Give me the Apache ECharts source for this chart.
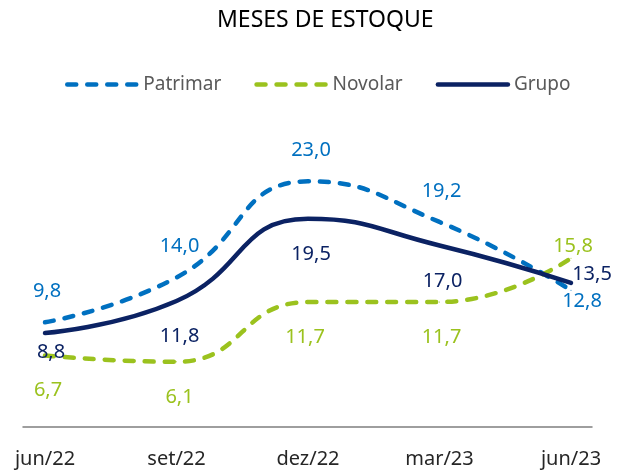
<!DOCTYPE html>
<html>
<head>
<meta charset="utf-8">
<script src="https://cdn.jsdelivr.net/npm/echarts@6/dist/echarts.min.js"></script>
<style>
html,body{margin:0;padding:0;background:#fff;}
#chart{width:619px;height:472px;}
</style>
</head>
<body>
<div id="chart"></div>
<script>
var categories = ['jun/22', 'set/22', 'dez/22', 'mar/23', 'jun/23'];
var patrimar = [9.8, 14.0, 23.0, 19.2, 12.8];
var novolar = [6.7, 6.1, 11.7, 11.7, 15.8];
var grupo = [8.8, 11.8, 19.5, 17.0, 13.5];
var seriesNames = ['Patrimar', 'Novolar', 'Grupo'];
var titleText = 'MESES DE ESTOQUE';

var FONT = '"Noto Sans", sans-serif';
var colors = ['#0070C0', '#9BC21E', '#0B2263'];
var labelOffsets = [
  [[2, -31], [3, -31], [3, -31], [2, -31], [11, 11]],
  [[3, 35], [3, 35], [-3, 35], [2, 35], [2, -12]],
  [[6, 19], [3, 35], [3, 36], [3, 36], [21, -9]]
];
function fmt(v) { return v.toFixed(1).replace('.', ','); }
function build(vals, idx) {
  return vals.map(function (v, i) {
    return { value: v, label: { offset: labelOffsets[idx][i] } };
  });
}
var lists = [patrimar, novolar, grupo];
var series = lists.map(function (vals, idx) {
  return {
    name: seriesNames[idx],
    type: 'line',
    smooth: 0.5,
    data: build(vals, idx),
    symbol: 'circle',
    symbolSize: 1,
    z: 2 + idx,
    itemStyle: { color: colors[idx] },
    lineStyle: idx < 2
      ? { color: colors[idx], width: 4.5, type: [9, 11], cap: 'round' }
      : { color: colors[idx], width: 4.5, cap: 'round' },
    label: {
      show: true,
      position: 'inside',
      color: colors[idx],
      fontFamily: FONT,
      fontSize: 20,
      formatter: function (p) { return fmt(p.value); }
    },
    emphasis: { disabled: true },
    animation: false
  };
});

var chart = echarts.init(document.getElementById('chart'), null, { renderer: 'canvas' });
chart.setOption({
  backgroundColor: '#fff',
  animation: false,
  color: colors,
  title: {
    text: titleText,
    left: 212,
    top: 4,
    textStyle: { fontFamily: FONT, fontSize: 23, fontWeight: 'normal', color: '#000' }
  },
  legend: {
    data: seriesNames,
    left: 60,
    top: 70,
    itemWidth: 70,
    itemHeight: 5,
    itemGap: 33,
    lineStyle: { width: 4.5, cap: 'round' },
    itemStyle: { color: 'rgba(0,0,0,0)', borderWidth: 0 },
    textStyle: { fontFamily: FONT, fontSize: 19, color: '#595959', padding: [0, 0, 0, 1] }
  },
  grid: [
    { left: 45, right: 48, top: 160, bottom: 45 },
    { left: 23, right: 27, top: 160, bottom: 45 }
  ],
  xAxis: [
    {
      type: 'category',
      data: categories,
      boundaryGap: false,
      gridIndex: 0,
      axisLine: { show: false },
      axisTick: { show: false },
      axisLabel: { fontFamily: FONT, fontSize: 20, color: '#262626', margin: 22 },
      splitLine: { show: false }
    },
    {
      type: 'value',
      gridIndex: 1,
      min: 0, max: 1,
      axisLine: { show: true, lineStyle: { color: '#7f7f7f', width: 1.5 } },
      axisTick: { show: false },
      axisLabel: { show: false },
      splitLine: { show: false }
    }
  ],
  yAxis: [
    { type: 'value', gridIndex: 0, min: 0, max: 25, show: false, splitLine: { show: false } },
    { type: 'value', gridIndex: 1, min: 0, max: 1, show: false, splitLine: { show: false } }
  ],
  series: series
});
</script>
</body>
</html>
